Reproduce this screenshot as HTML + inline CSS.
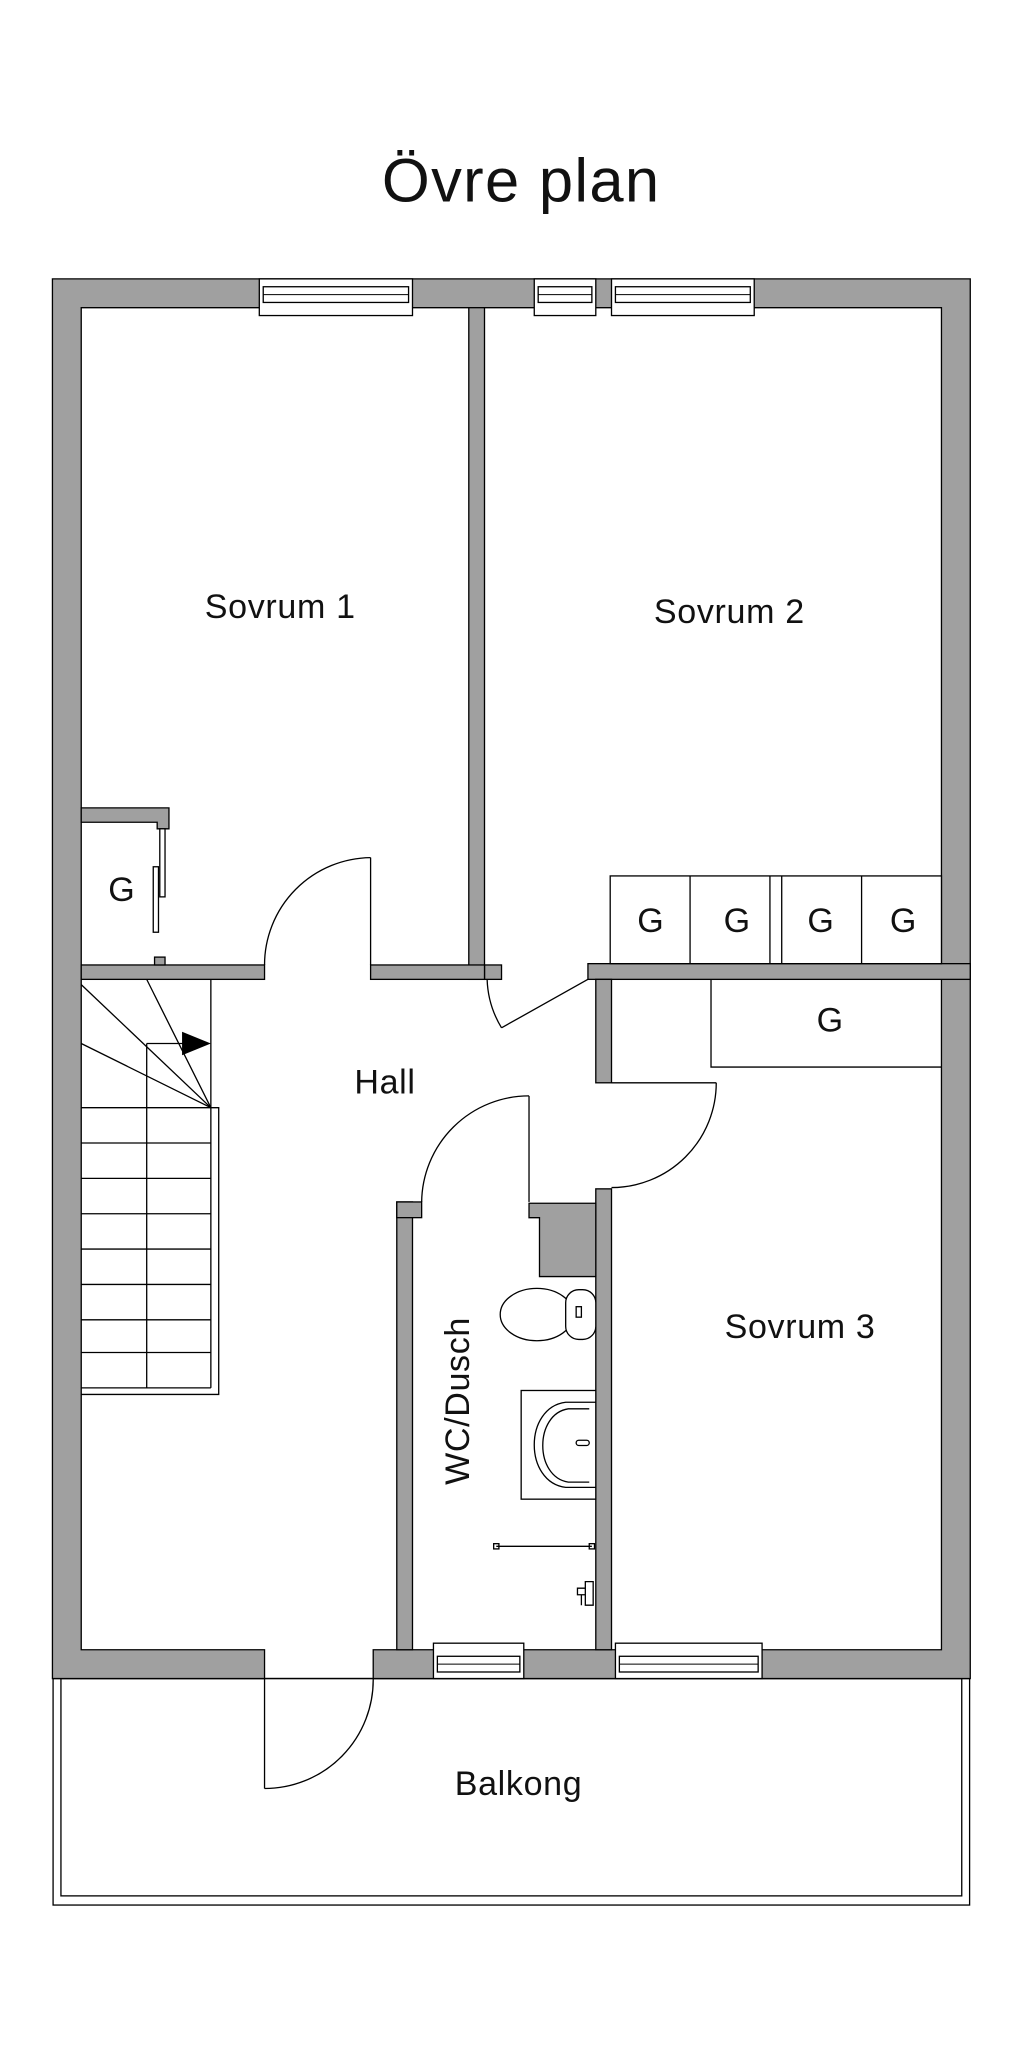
<!DOCTYPE html>
<html><head><meta charset="utf-8"><style>
html,body{margin:0;padding:0;background:#fff}
svg{display:block}
text{font-family:"Liberation Sans",sans-serif;fill:#111}
</style></head><body>
<svg width="1024" height="2053" viewBox="0 0 782 1568" xmlns="http://www.w3.org/2000/svg">
<rect width="782" height="1568" fill="#fff"/>
<text x="398" y="154" font-size="47" text-anchor="middle" letter-spacing="1">Övre plan</text>

<!-- balcony -->
<rect x="40.5" y="1282" width="700" height="173" fill="none" stroke="#000" stroke-width="1"/>
<rect x="46.5" y="1282" width="688" height="166" fill="none" stroke="#000" stroke-width="1"/>

<g fill="#a0a0a0" stroke="#000" stroke-width="1">
<path fill-rule="evenodd" d="M40,213 H741 V1282 H285 V1260 H719 V235 H62 V1260 H202 V1282 H40 Z"/>
<rect x="358" y="235" width="12" height="513"/>
<rect x="370" y="737" width="13" height="11"/>
<rect x="62" y="737" width="140" height="11"/>
<rect x="283" y="737" width="87" height="11"/>
<path d="M62,617 H129 V633 H120 V628 H62 Z"/>
<rect x="118" y="731" width="8" height="6"/>
<rect x="449" y="736" width="292" height="12"/>
<rect x="455" y="748" width="12" height="79"/>
<rect x="455" y="908" width="12" height="352"/>
<rect x="303" y="918" width="12" height="342"/>
<rect x="303" y="918" width="19" height="12"/>
<path d="M404,919 H455 V975 H412 V930 H404 Z"/>
</g>

<g fill="#fff" stroke="#000" stroke-width="1">
<rect x="198" y="213" width="117" height="28"/>
<rect x="201" y="219" width="111" height="12"/>
<rect x="408" y="213" width="47" height="28"/>
<rect x="411" y="219" width="41" height="12"/>
<rect x="467" y="213" width="109" height="28"/>
<rect x="470" y="219" width="103" height="12"/>
<rect x="331" y="1255" width="69" height="27"/>
<rect x="334" y="1265" width="63" height="12"/>
<rect x="470" y="1255" width="112" height="27"/>
<rect x="473" y="1265" width="106" height="12"/>
</g>
<g stroke="#000" stroke-width="0.8" fill="none">
<line x1="201" y1="225" x2="312" y2="225"/><line x1="411" y1="225" x2="452" y2="225"/><line x1="470" y1="225" x2="573" y2="225"/>
<line x1="334" y1="1271" x2="397" y2="1271"/><line x1="473" y1="1271" x2="579" y2="1271"/>
</g>

<g stroke="#000" stroke-width="1" fill="none">
<rect x="122" y="633" width="4" height="52" fill="#fff"/>
<rect x="117" y="662" width="4" height="50" fill="#fff"/>
<line x1="283" y1="655" x2="283" y2="737"/>
<path d="M283,655 A82,82 0 0 0 202,737"/>
<line x1="449" y1="748" x2="383" y2="785"/>
<path d="M383,785 A76,76 0 0 1 372,748"/>
<line x1="467" y1="827" x2="547" y2="827"/>
<path d="M547,827 A80,80 0 0 1 467,907"/>
<line x1="404" y1="837" x2="404" y2="918"/>
<path d="M404,837 A82,82 0 0 0 322,918"/>
<line x1="202" y1="1282" x2="202" y2="1366"/>
<path d="M202,1366 A83,83 0 0 0 285,1282"/>

<rect x="466" y="669" width="253" height="67" fill="#fff"/>
<line x1="527" y1="669" x2="527" y2="736"/>
<line x1="588" y1="669" x2="588" y2="736"/>
<line x1="597" y1="669" x2="597" y2="736"/>
<line x1="658" y1="669" x2="658" y2="736"/>
<path d="M543,748 V815 H719"/>

<line x1="161" y1="748" x2="161" y2="1060"/>
<path d="M161,846 H167 V1065 H62"/>
<line x1="112" y1="797" x2="112" y2="1060"/>
<line x1="62" y1="752" x2="161" y2="846"/>
<line x1="112" y1="748" x2="161" y2="846"/>
<line x1="62" y1="797" x2="161" y2="846"/>
<line x1="112" y1="797" x2="145" y2="797"/>
<line x1="62" y1="846" x2="161" y2="846"/>
<line x1="62" y1="873" x2="161" y2="873"/>
<line x1="62" y1="900" x2="161" y2="900"/>
<line x1="62" y1="927" x2="161" y2="927"/>
<line x1="62" y1="954" x2="161" y2="954"/>
<line x1="62" y1="981" x2="161" y2="981"/>
<line x1="62" y1="1008" x2="161" y2="1008"/>
<line x1="62" y1="1033" x2="161" y2="1033"/>
<line x1="62" y1="1060" x2="161" y2="1060"/>

<ellipse cx="410" cy="1004" rx="28" ry="20" fill="#fff"/>
<rect x="432" y="985" width="23" height="38" rx="10" fill="#fff"/>
<rect x="440" y="998" width="4" height="8" fill="none"/>
<rect x="398" y="1062" width="57" height="83" fill="#fff"/>
<path d="M455,1071 H432 C400,1075 400,1132 432,1136 H455"/>
<path d="M450,1076 H434 C408,1080 408,1128 434,1132 H450"/>
<rect x="440" y="1100" width="10" height="4" rx="2"/>
<line x1="379" y1="1181" x2="452" y2="1181"/>
<rect x="377" y="1179" width="4" height="4"/>
<rect x="450" y="1179" width="4" height="4"/>
<path d="M447,1208 h6 v18 h-6 z M441,1213 h6 v5 h-6 z M444,1218 v8"/>
</g>
<path d="M139,788 L161,797 L139,806 Z" fill="#000"/>

<g font-size="26" text-anchor="middle" letter-spacing="0.5">
<text x="214" y="472">Sovrum 1</text>
<text x="557" y="476">Sovrum 2</text>
<text x="294" y="835">Hall</text>
<text x="611" y="1022">Sovrum 3</text>
<text x="396" y="1371">Balkong</text>
<text x="93" y="688">G</text>
<text x="497" y="712">G</text>
<text x="563" y="712">G</text>
<text x="627" y="712">G</text>
<text x="690" y="712">G</text>
<text x="634" y="788">G</text>
<text transform="translate(358,1070) rotate(-90)">WC/Dusch</text>
</g>
</svg>
</body></html>
